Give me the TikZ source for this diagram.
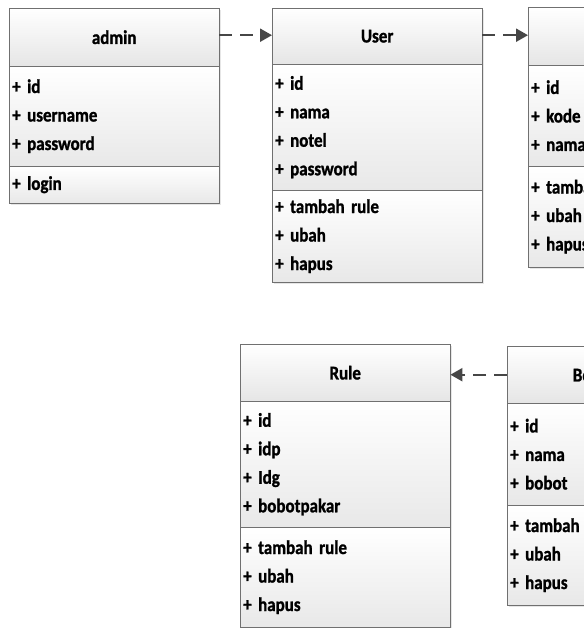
\documentclass[tikz,border=0pt]{standalone}
\usepackage{fontspec}
\setmainfont{Carlito}[FakeStretch=0.87, BoldFeatures={FakeBold=1.2}]
\usetikzlibrary{arrows.meta,shadows}
\definecolor{boxline}{RGB}{112,112,112}
\definecolor{linkgray}{RGB}{70,70,70}

\begin{document}
\begin{tikzpicture}[x=1bp, y=-1bp, >={Triangle[length=12bp,width=13bp]},
    every node/.style={font=\fontsize{19.5bp}{28.5bp}\selectfont\bfseries},
    head/.style={draw=boxline, top color=white, bottom color=black!10, anchor=north west,
        minimum width=210bp, inner sep=0pt,
        drop shadow={shadow xshift=1.5bp, shadow yshift=-2bp, opacity=0.2}},
    part/.style={draw=boxline, top color=white, bottom color=black!9, anchor=north west,
        text width=204bp, align=left, inner xsep=3bp, inner ysep=0pt,
        drop shadow={shadow xshift=1.5bp, shadow yshift=-2bp, opacity=0.2}},
    link/.style={->, dash pattern=on 13bp off 8bp, line width=2.2bp, linkgray}]
    \useasboundingbox (0,0) rectangle (584,628);
    \clip (0,0) rectangle (584,628);

    \node[head, minimum height=58bp] (adminh) at (9,8) {admin};
    \node[part, minimum height=100bp] (admina) at (9,66) {+ id\\+ username\\+ password};
    \node[part, minimum height=37bp] (adminm) at (9,166) {+ login};

    \node[head, minimum height=56bp] (userh) at (272,8) {User};
    \node[part, minimum height=126bp] (usera) at (272,64) {+ id\\+ nama\\+ notel\\+ password};
    \node[part, minimum height=92bp] (userm) at (272,190) {+ tambah rule\\+ ubah\\+ hapus};

    \node[head, minimum height=58bp] (kodeh) at (528,7) {};
    \node[part, minimum height=101bp] (kodea) at (528,65) {+ id\\+ kode\\+ nama};
    \node[part, minimum height=101bp] (kodem) at (528,166) {+ tambah\\+ ubah\\+ hapus};

    \node[head, minimum height=57bp] (ruleh) at (240,344) {Rule};
    \node[part, minimum height=126bp] (rulea) at (240,401) {+ id\\+ idp\\+ Idg\\+ bobotpakar};
    \node[part, minimum height=100bp] (rulem) at (240,527) {+ tambah rule\\+ ubah\\+ hapus};

    \node[head, minimum width=174bp, minimum height=57bp] (boboth) at (507,346) {Bobot};
    \node[part, minimum height=102bp] (bobota) at (507,403) {+ id\\+ nama\\+ bobot};
    \node[part, minimum height=100bp] (bobotm) at (507,505) {+ tambah\\+ ubah\\+ hapus};

    \draw[link] ([yshift=2bp]adminh.east) -- ([yshift=2bp]adminh.east -| userh.west);
    \draw[link] ([yshift=1bp]userh.east) -- ([yshift=1bp]userh.east -| kodeh.west);
    \draw[link] (boboth.west) -- (boboth.west -| ruleh.east);
\end{tikzpicture}
\end{document}
